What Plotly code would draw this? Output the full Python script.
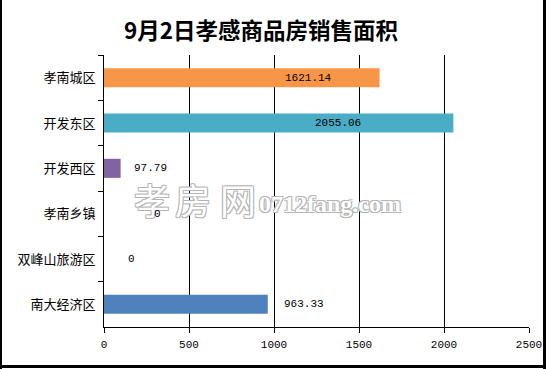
import plotly.graph_objects as go

categories = ["孝南城区", "开发东区", "开发西区", "孝南乡镇", "双峰山旅游区", "南大经济区"]
values = [1621.14, 2055.06, 97.79, 0, 0, 963.33]
label_texts = ["1621.14", "2055.06", "97.79", "0", "0", "963.33"]
label_x = [1053, 1229, 165, 282, 129, 1047]   # left edge of each value label (axis units)
colors = ["#F79646", "#4BACC6", "#8064A2", "#C0504D", "#9BBB59", "#4F81BD"]
x_ticks = [0, 500, 1000, 1500, 2000, 2500]
title = "9月2日孝感商品房销售面积"
watermark_chars = ["孝", "房", "网"]
watermark_url = "0712fang.com"

W, H = 546, 369
L, R, T, B = 104, 17, 55, 42
pw, ph = W - L - R, H - T - B

def xp(px):
    return (px - L) / pw

def yp(py):
    return (H - B - py) / ph

fig = go.Figure()
fig.add_trace(go.Bar(
    y=categories, x=values, orientation="h",
    marker=dict(color=colors, line=dict(width=0)),
    width=0.42, hoverinfo="x+y",
))

font_cjk = "'Noto Sans CJK SC', sans-serif"
font_num = "'Liberation Mono', monospace"

annotations = []
oc = "#b4b4b4"
shadow = f"-1px -1px 0 {oc}, 1px -1px 0 {oc}, -1px 1px 0 {oc}, 1px 1px 0 {oc}"
for ch, cx in zip(watermark_chars, [152, 193, 238]):
    annotations.append(dict(x=xp(cx), y=yp(199), xref="paper", yref="paper", text=ch,
                            showarrow=False, xanchor="center", yanchor="middle",
                            font=dict(size=36, color="white", family=font_cjk, shadow=shadow)))
annotations.append(dict(x=xp(330), y=yp(204), xref="paper", yref="paper", text="<b>" + watermark_url + "</b>",
                        showarrow=False, xanchor="center", yanchor="middle",
                        font=dict(size=24, color="white", family="'Liberation Serif', serif", shadow=shadow)))

for c, t, lx in zip(categories, label_texts, label_x):
    annotations.append(dict(x=lx, y=c, xref="x", yref="y", text=t, showarrow=False,
                            xanchor="left", yanchor="middle",
                            font=dict(size=11, color="#000", family=font_num)))

annotations.append(dict(x=xp(261), y=yp(29), xref="paper", yref="paper", text="<b>" + title + "</b>",
                        showarrow=False, xanchor="center", yanchor="middle",
                        font=dict(size=22.5, color="#000", family=font_cjk)))

shapes = [
    dict(type="line", xref="paper", yref="paper", x0=xp(1), x1=xp(1), y0=yp(0), y1=yp(H),
         line=dict(color="black", width=2)),
    dict(type="line", xref="paper", yref="paper", x0=xp(544.5), x1=xp(544.5), y0=yp(0), y1=yp(H),
         line=dict(color="black", width=3)),
    dict(type="line", xref="paper", yref="paper", x0=xp(0), x1=xp(W), y0=yp(366.5), y1=yp(366.5),
         line=dict(color="black", width=3)),
]

fig.update_layout(
    width=W, height=H, autosize=False,
    margin=dict(l=L, r=R, t=T, b=B, pad=0, autoexpand=False),
    paper_bgcolor="white", plot_bgcolor="white",
    showlegend=False,
    annotations=annotations,
    shapes=shapes,
    font=dict(family=font_cjk, size=12, color="#000"),
    xaxis=dict(range=[0, 2500], tickvals=x_ticks, ticktext=[str(v) for v in x_ticks],
               showgrid=True, gridcolor="black", gridwidth=1, zeroline=False,
               showline=True, linecolor="black", linewidth=1,
               ticks="outside", ticklen=5, tickcolor="black", automargin=False,
               ticklabelstandoff=2,
               tickfont=dict(size=11, family=font_num)),
    yaxis=dict(categoryorder="array", categoryarray=categories, autorange="reversed",
               showgrid=False, zeroline=False, showline=True, linecolor="black", linewidth=1,
               ticks="outside", ticklen=5, tickcolor="black", tickson="boundaries", automargin=False,
               ticklabelstandoff=5,
               tickfont=dict(size=13, family=font_cjk)),
)

post = "document.body.style.margin='0';document.body.style.padding='0';document.body.style.overflow='hidden';"
fig.write_html("out.html", config={"displayModeBar": False, "responsive": False}, post_script=post)
